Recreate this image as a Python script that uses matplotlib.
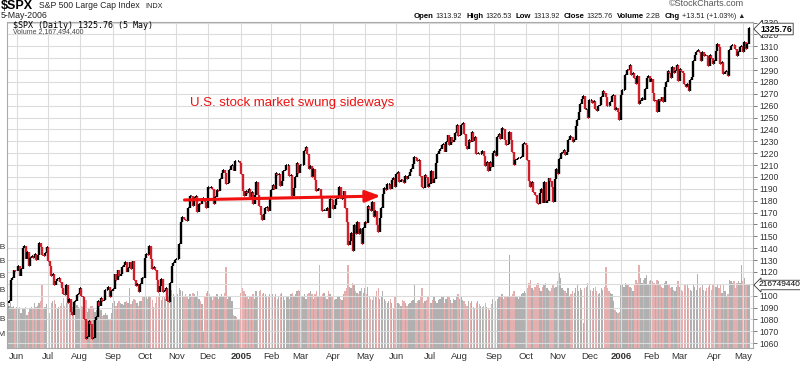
import numpy as np
import pandas as pd
import matplotlib
matplotlib.use('Agg')
import matplotlib.pyplot as plt

plt.rcParams['font.family'] = ['Liberation Sans', 'DejaVu Sans']

# $SPX daily closes, 21-May-2004 .. 5-May-2006
close_2004 = [1093.56, 1095.41, 1113.05, 1114.94, 1121.28, 1120.68,
              1121.20, 1124.99, 1116.64, 1122.50, 1140.42, 1142.18, 1131.33, 1136.47, 1125.29, 1132.01,
              1133.56, 1132.05, 1135.02, 1130.30, 1134.41, 1144.06, 1140.65, 1134.43, 1133.35, 1136.20, 1140.84,
              1128.94, 1125.38, 1116.21, 1118.33, 1109.11, 1112.81, 1114.35, 1115.14, 1111.47, 1106.69, 1101.39,
              1100.90, 1108.67, 1093.88, 1096.84, 1086.20, 1084.07, 1094.83, 1095.42, 1100.43, 1101.72,
              1106.62, 1099.69, 1098.63, 1080.70, 1063.97, 1065.22, 1079.04, 1075.79, 1063.23, 1064.80, 1079.34,
              1081.71, 1095.17, 1091.23, 1098.35, 1095.68, 1096.19, 1104.96, 1105.09, 1107.77, 1099.15, 1104.24,
              1105.91, 1118.31, 1113.63, 1121.30, 1116.27, 1118.38, 1123.92, 1125.82, 1128.33, 1120.37, 1123.50,
              1128.55, 1122.20, 1129.30, 1113.56, 1108.36, 1110.11, 1103.52, 1110.06, 1114.80, 1114.58,
              1131.50, 1135.17, 1134.48, 1142.05, 1130.65, 1122.14, 1124.39, 1121.84, 1113.65, 1103.29, 1108.20,
              1114.02, 1103.23, 1103.66, 1106.49, 1095.74, 1094.80, 1111.09, 1125.40, 1127.44, 1130.20,
              1130.51, 1130.56, 1143.20, 1161.67, 1166.17, 1164.89, 1164.08, 1162.91, 1173.48, 1184.17, 1183.81,
              1175.43, 1181.94, 1183.55, 1170.34, 1177.24, 1176.94, 1181.76, 1182.65, 1178.57, 1173.82,
              1191.37, 1190.33, 1191.17, 1190.25, 1177.07, 1182.81, 1189.24, 1188.00, 1198.68, 1203.38, 1205.72,
              1203.21, 1194.20, 1194.65, 1205.45, 1209.57, 1210.13, 1204.92, 1213.54, 1213.45, 1213.55, 1211.92]
close_2005 = [1202.08, 1188.05, 1183.74, 1187.89, 1186.19, 1190.25, 1182.99, 1187.70, 1177.45, 1184.52,
              1195.98, 1184.63, 1175.41, 1167.87, 1163.75, 1168.41, 1174.07, 1174.55, 1171.36, 1181.27,
              1189.41, 1193.19, 1189.89, 1203.03, 1201.72, 1202.30, 1191.99, 1197.01, 1205.30, 1206.14,
              1210.12, 1210.34, 1200.75, 1201.59, 1184.16, 1190.80, 1200.20, 1211.37, 1203.60,
              1210.41, 1210.08, 1210.47, 1222.12, 1225.31, 1219.43, 1207.01, 1209.25, 1200.08, 1206.83, 1197.75,
              1188.07, 1190.21, 1189.65, 1183.78, 1171.71, 1172.53, 1171.42, 1174.28, 1165.36, 1181.41, 1180.59,
              1172.92, 1176.12, 1181.39, 1184.07, 1191.14, 1181.20, 1181.21, 1187.76, 1173.79, 1162.05, 1142.62,
              1145.98, 1152.78, 1137.50, 1159.95, 1152.12, 1162.10, 1151.83, 1156.38, 1143.22, 1156.85,
              1162.16, 1161.17, 1175.65, 1172.63, 1171.35, 1178.84, 1166.22, 1171.11, 1159.36, 1154.05, 1165.69,
              1173.80, 1185.56, 1191.08, 1189.28, 1193.86, 1194.07, 1190.01, 1197.62, 1198.78, 1191.50,
              1202.22, 1204.29, 1196.02, 1197.51, 1197.26, 1194.67, 1200.93, 1198.11, 1200.82, 1203.91, 1206.58,
              1210.96, 1216.96, 1216.10, 1213.61, 1213.88, 1200.73, 1191.57, 1190.69, 1201.57, 1199.85, 1191.33,
              1194.44, 1204.99, 1194.94, 1197.87, 1211.86, 1219.44, 1222.21, 1223.29, 1226.50, 1227.92,
              1221.13, 1229.35, 1235.20, 1227.04, 1233.68, 1229.03, 1231.16, 1236.79, 1243.72, 1234.18,
              1235.35, 1244.12, 1245.04, 1235.86, 1226.42, 1223.13, 1231.38, 1229.13, 1237.81, 1230.39, 1233.87,
              1219.34, 1220.24, 1219.02, 1219.71, 1221.73, 1217.59, 1209.59, 1212.37, 1205.10, 1212.28, 1208.41,
              1220.33,
              1221.59, 1218.02, 1233.39, 1236.36, 1231.67, 1241.48, 1240.56, 1231.20, 1227.16, 1227.73, 1237.91,
              1231.02, 1221.34, 1210.20, 1214.62, 1215.29, 1215.63, 1215.66, 1216.89, 1227.68, 1228.81,
              1226.70, 1214.47, 1196.39, 1191.49, 1195.90, 1187.33, 1184.87, 1177.68, 1176.84, 1186.57, 1190.10,
              1178.14, 1195.76, 1177.80, 1179.59, 1199.38, 1196.54, 1191.38, 1178.90, 1198.41, 1207.01,
              1202.76, 1214.76, 1219.94, 1220.14, 1222.81, 1218.59, 1220.65, 1230.96, 1234.72, 1233.76, 1229.01,
              1231.21, 1242.80, 1248.27, 1254.85, 1261.23, 1265.61, 1268.25, 1257.46, 1257.48, 1249.48,
              1264.67, 1265.08, 1262.09, 1263.70, 1257.37, 1255.84, 1259.37, 1260.43, 1267.43, 1272.74, 1270.94,
              1267.32, 1259.92, 1259.62, 1262.79, 1268.12, 1268.66, 1256.54, 1258.17, 1254.42, 1248.29]
close_2006 = [1268.80, 1273.46, 1273.48, 1285.45, 1290.15, 1289.69, 1294.18, 1286.06, 1287.61, 1282.93,
              1277.93, 1285.04, 1261.49, 1263.82, 1266.86, 1264.68, 1273.83, 1283.72, 1285.19, 1280.08,
              1282.46, 1270.84, 1264.03, 1265.02, 1254.78, 1265.65, 1263.78, 1266.99, 1262.86, 1275.53,
              1280.00, 1289.38, 1287.24, 1283.03, 1292.67, 1287.79, 1289.43, 1294.12, 1280.66,
              1291.24, 1289.14, 1287.23, 1278.26, 1275.88, 1278.47, 1272.23, 1281.42, 1284.13, 1297.48, 1303.02,
              1305.33, 1307.25, 1305.08, 1297.23, 1305.04, 1301.67, 1302.95, 1301.61, 1293.23, 1302.89, 1300.25,
              1294.87,
              1297.81, 1305.93, 1311.56, 1309.04, 1295.50, 1296.62, 1286.57, 1288.12, 1289.12, 1285.33, 1307.28,
              1309.93, 1311.46, 1311.28, 1308.11, 1301.74, 1305.41, 1309.72, 1310.61,
              1305.19, 1313.21, 1307.85, 1312.25, 1325.76]
open_first = 1088.68  # close of 20-May-2004

# volume, billions of shares
vol_2004 = [1.70, 1.45, 1.55, 1.40, 1.45, 1.35,
            1.40, 1.35, 1.42, 1.20, 1.38, 1.36, 1.40, 1.15, 1.25, 1.38, 1.40, 1.35, 1.55, 1.42, 1.45,
            1.55, 1.60, 2.15, 1.38, 1.40, 1.52,
            1.45, 1.20, 1.55, 1.60, 1.65, 1.50, 1.35, 1.40, 1.45, 1.55, 1.72, 1.45, 1.55, 1.65, 1.50,
            1.60, 1.42, 1.55, 1.65, 1.48, 1.40,
            1.35, 1.45, 1.40, 1.55, 1.65, 1.25, 1.38, 1.45, 1.45, 1.35, 1.25, 1.30, 1.40, 1.35, 1.30,
            1.10, 1.15, 1.20, 1.15, 0.95, 0.95, 1.20,
            1.55, 1.60, 1.45, 1.55, 1.60, 1.55, 1.50, 1.48, 1.58, 1.62, 1.55, 2.05, 1.50, 1.60, 1.70,
            1.65, 1.55, 1.45, 1.60, 1.62, 1.75,
            1.80, 1.75, 1.70, 1.75, 1.80, 1.65, 1.40, 1.55, 1.75, 1.80, 1.90, 1.65, 1.75, 1.80, 1.70,
            1.85, 1.75, 1.90, 2.00, 1.85, 1.75,
            1.70, 1.85, 2.05, 2.00, 1.95, 1.80, 1.85, 1.80, 1.70, 1.85, 1.75, 1.90, 1.85, 1.80, 1.95,
            1.70, 1.60, 1.50, 0.60, 1.75, 1.90,
            1.95, 1.85, 1.80, 1.65, 1.80, 1.75, 1.85, 1.70, 1.75, 1.85, 1.80, 1.90, 2.80, 1.70, 1.80,
            1.75, 1.60, 1.15, 1.10, 1.05, 0.95, 1.00]
vol_2005 = [1.90, 2.05, 1.95, 1.85, 1.80, 1.70, 1.75, 1.80, 1.85, 1.70, 1.95, 1.80, 1.95, 2.00, 1.85,
            1.90, 1.85, 1.80, 1.75, 1.85,
            1.95, 1.85, 1.80, 1.85, 1.70, 1.75, 1.85, 1.90, 1.80, 1.65, 1.75, 1.80, 1.70, 1.85, 1.90,
            1.80, 1.85, 1.95, 2.00,
            1.95, 1.75, 1.80, 1.85, 1.70, 1.85, 1.90, 1.95, 1.85, 1.70, 1.85, 1.95, 1.80, 2.85, 1.75,
            1.85, 1.90, 1.80, 1.70, 1.95, 1.85, 1.80,
            1.75, 1.65, 1.70, 1.75, 1.80, 1.70, 1.65, 1.85, 1.95, 2.05, 2.85, 2.10, 2.05, 2.25, 2.15,
            1.95, 1.90, 1.85, 1.95, 2.05, 1.90,
            2.05, 1.85, 2.10, 1.75, 1.70, 1.65, 1.80, 1.75, 1.95, 2.05, 1.70, 1.80, 1.95, 1.70, 1.60,
            1.55, 1.60, 1.70, 1.55, 1.35, 1.75,
            1.60, 1.55, 1.50, 1.45, 1.65, 1.60, 1.55, 1.45, 1.50, 1.55, 1.60, 1.65, 2.15, 1.55, 1.60,
            1.65, 1.75, 2.05, 1.55, 1.60, 1.65, 1.75,
            1.60, 1.55, 1.65, 1.75, 1.60, 1.55, 1.65, 1.70, 1.75, 1.80, 1.55, 1.70, 1.75, 1.80, 1.65,
            1.55, 1.70, 1.65, 1.75, 1.85,
            1.70, 1.75, 1.65, 1.60, 1.50, 1.45, 1.60, 1.55, 1.60, 1.40, 1.35, 1.55, 1.60, 1.50, 1.45,
            1.40, 1.45, 1.55, 1.40, 1.35, 1.30, 1.50, 1.70,
            1.75, 1.60, 1.70, 1.80, 1.75, 1.85, 1.70, 1.80, 1.75, 1.80, 3.20, 1.75, 1.85, 1.95, 1.80,
            1.75, 1.70, 1.80, 1.85, 1.90, 1.95,
            1.90, 2.05, 2.25, 2.35, 2.05, 2.00, 2.10, 2.15, 2.25, 2.05, 1.95, 2.10, 2.20, 2.25, 2.05,
            2.00, 1.95, 2.05, 2.15, 2.05, 2.10,
            2.30, 2.60, 2.40, 2.05, 2.00, 1.95, 1.90, 2.05, 1.80, 1.85, 1.95, 1.90, 2.05, 2.15, 1.95,
            2.05, 2.00, 0.85, 2.05, 2.10, 2.25,
            2.15, 2.00, 1.95, 2.05, 2.10, 1.95, 1.85, 1.90, 2.05, 2.00, 2.10, 2.80, 2.05, 1.95, 1.90,
            1.85, 1.60, 1.30, 1.25, 1.20, 1.25]
vol_2006 = [2.15, 2.20, 2.10, 2.25, 2.15, 2.20, 2.10, 2.05, 1.95, 2.20, 2.35, 2.25, 2.85, 2.40, 2.25,
            2.35, 2.40, 2.50, 2.20, 2.30,
            2.35, 2.30, 2.25, 2.15, 2.35, 2.30, 2.20, 2.10, 2.05, 2.25, 2.30, 2.20, 2.15, 2.05, 2.10,
            2.00, 1.95, 2.10, 2.30,
            2.10, 2.00, 1.95, 2.15, 2.20, 2.15, 2.05, 2.00, 1.95, 2.20, 2.10, 2.00, 2.55, 2.05, 2.10,
            2.15, 2.00, 1.95, 2.05, 2.10, 2.15, 2.00, 2.20,
            2.00, 2.10, 2.15, 2.05, 2.20, 1.90, 2.15, 1.95, 1.75, 1.85, 2.35, 2.30, 2.25, 2.30, 2.05,
            2.25, 2.30, 2.25, 2.85,
            2.30, 2.40, 2.20, 2.15, 2.1675]

holidays = ['2004-05-31', '2004-06-11', '2004-07-05', '2004-09-06', '2004-11-25', '2004-12-24',
            '2005-01-17', '2005-02-21', '2005-03-25', '2005-05-30', '2005-07-04', '2005-09-05',
            '2005-11-24', '2005-12-26', '2006-01-02', '2006-01-16', '2006-02-20', '2006-04-14']

close = np.array(close_2004 + close_2005 + close_2006)
vol = np.array(vol_2004 + vol_2005 + vol_2006)
dates = pd.bdate_range('2004-05-21', '2006-05-05')
dates = dates[~dates.isin(pd.to_datetime(holidays))]
n = len(close)
x = np.arange(n)
opens = np.concatenate([[open_first], close[:-1]])
up = close >= opens

fig = plt.figure(figsize=(8, 3.65), dpi=100)
ax = fig.add_axes([7 / 800, 1 - 348 / 365, 746 / 800, 326 / 365])
axv = ax.twinx()
ax.set_zorder(axv.get_zorder() + 1)
ax.patch.set_visible(False)

# volume overlay
vcol = np.where(up, '#b0b0b0', '#e6afaf')
axv.bar(x, vol, width=0.9, color=vcol, linewidth=0)
axv.set_ylim(0, 326 / 29.1)
axv.yaxis.tick_left()
axv.set_yticks([0.5, 1, 1.5, 2, 2.5, 3, 3.5])
axv.set_yticklabels(['500M', '1.0B', '1.5B', '2.0B', '2.5B', '3.0B', '3.5B'])
axv.tick_params(axis='y', length=0, pad=1, labelsize=6, labelcolor='#333333')

# price bars
pcol = np.where(up, '#000000', '#d01f2a')
ax.vlines(x, np.minimum(opens, close), np.maximum(opens, close), colors=pcol, lw=1.7)
ax.hlines(close, x, x + 0.6, colors=pcol, lw=1.2)
ax.set_xlim(-0.33, n - 1 + 2.65)
ax.set_ylim(1056.0, 1330.45)

# month grid / labels
first_days = [i for i in range(1, n) if dates[i].month != dates[i - 1].month]
labels = [str(dates[i].year) if dates[i].month == 1 else dates[i].strftime('%b') for i in first_days]
ax.set_xticks(first_days)
ax.set_xticklabels(labels)
for t, lab in zip(ax.get_xticklabels(), labels):
    if lab.isdigit():
        t.set_fontweight('bold')
        t.set_fontsize(7.2)
ax.tick_params(axis='x', length=0, pad=3, labelsize=6.8, labelcolor='#333333')
ax.yaxis.tick_right()
ax.set_yticks(np.arange(1060, 1331, 10))
ax.tick_params(axis='y', length=3, width=0.6, color='#666666', pad=1.5, labelsize=6.2, labelcolor='#333333')
ax.grid(True, color='#dcdcdc', lw=0.8)
ax.set_axisbelow(True)
for s in ax.spines.values():
    s.set_color('#aaaaaa')
    s.set_linewidth(0.8)
for s in axv.spines.values():
    s.set_visible(False)

# annotation
ax.annotate('', xy=(249.4, 1184.0), xytext=(115.6, 1180.6),
            arrowprops=dict(arrowstyle='-|>,head_length=0.9,head_width=0.35', color='#f01010', lw=2.2))
ax.text(121, 1262, 'U.S. stock market swung sideways', color='#f01010', fontsize=9.5, va='center')

# header
def px(xp, yp):
    return xp / 800, 1 - yp / 365

fig.text(*px(1, 6), '$SPX', fontsize=9, fontweight='bold', va='center')
fig.text(*px(39, 6), 'S&P 500 Large Cap Index', fontsize=6.2, va='center', color='#222222')
fig.text(*px(145, 6), 'INDX', fontsize=5.2, va='center', color='#222222')
fig.text(*px(1, 16), '5-May-2006', fontsize=6.3, va='center', color='#222222')
fig.text(*px(744, 4), '©StockCharts.com', fontsize=6.5, va='center', ha='right', color='#555555')
hdr = [('Open', '1313.92'), ('High', '1326.53'), ('Low', '1313.92'), ('Close', '1325.76'),
       ('Volume', '2.2B'), ('Chg', '+13.51 (+1.03%) ▲')]
fig.canvas.draw()
r = fig.canvas.get_renderer()
items = []
for k, v in hdr:
    t1 = fig.text(0, 0, k, fontsize=5.6, fontweight='bold', va='center')
    t2 = fig.text(0, 0, v, fontsize=5.2, va='center', color='#222222')
    items.append((t1, t2))
widths = [(a.get_window_extent(r).width, b.get_window_extent(r).width) for a, b in items]
total = sum(w1 + w2 + 2 for w1, w2 in widths) + 4 * (len(widths) - 1)
xx = 745 - total
for (t1, t2), (w1, w2) in zip(items, widths):
    t1.set_position(px(xx, 16))
    xx += w1 + 2
    t2.set_position(px(xx, 16))
    xx += w2 + 4

fig.text(*px(13, 25), '$SPX (Daily) 1325.76 (5 May)', fontsize=6, va='center',
         family='DejaVu Sans Mono')
fig.text(*px(13, 32), 'Volume 2,167,494,400', fontsize=5, va='center', color='#444444')
fig.text(*px(760, 29), '1325.76', fontsize=6.3, fontweight='bold', va='center',
         bbox=dict(boxstyle='larrow,pad=0.15', fc='white', ec='#333333', lw=0.6))
fig.text(*px(759, 285), '2167494400', fontsize=6, va='center',
         bbox=dict(boxstyle='larrow,pad=0.15', fc='white', ec='#333333', lw=0.6))

fig.savefig('out.png', dpi=100)
